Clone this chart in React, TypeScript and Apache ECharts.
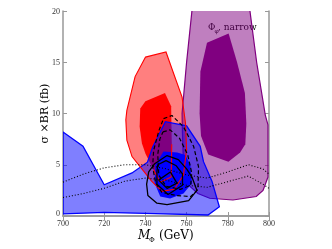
import React, { useEffect, useRef } from 'react';
import * as echarts from 'echarts';

const xTicks = [700, 720, 740, 760, 780, 800];
const yTicks = [0, 5, 10, 15, 20];

const redOuter = [[740,15.5],[750,16.0],[753.7,13.9],[757.8,11.6],[759.5,9],[760,6.5],[758.5,4],[754,2.6],[748,2.4],[743,3.4],[737.5,4.8],[733.5,5.8],[731,7.4],[730.5,9.4],[731,10.3],[735,13.6]];
const redInner = [[740,11.2],[749.5,12.0],[752.5,10.7],[752.8,7],[752.5,3.8],[747.2,3.3],[744,4.5],[740,6.1],[738.3,7.1],[737.2,8.7],[737.5,10.5]];
const purpleLight = [[763.1,21],[790.1,21],[794,15],[798.2,9.85],[799.5,8.9],[799.5,3.8],[797.1,2.5],[793.8,1.9],[782.5,1.56],[771.2,1.73],[765.5,2.2],[761,3],[758.5,5],[758,8],[757.8,10],[760,15]];
const purpleDark = [[769.9,16.9],[780.4,17.8],[784.5,15],[788.3,12],[789,9],[788.5,7],[786,6.2],[780.3,5.3],[770.5,6],[767,7.8],[766.3,10],[766.7,14.1]];
const blueLight = [[700,0.2],[700,8.2],[709.7,6.8],[720,3.05],[733.5,4.2],[741,5.25],[743.5,6.7],[749.7,9.2],[760,8.8],[766.6,6.8],[768.2,5.3],[772.3,3.4],[775.9,0.9],[770.4,0.1],[740,0.25],[720,0.35]];
const blueDark = [[748.8,6.3],[755.5,6.2],[759.4,5.95],[761.8,5],[762.6,3.2],[758.5,2.2],[752,1.7],[747.2,1.9],[744.5,3.2],[744.8,5]];
const blackOuter = [[750.5,5.9],[756,5.5],[760,4.6],[762.6,3.8],[765,2.5],[761,1.5],[750.5,1.1],[745.6,1.25],[741.2,2.0],[740.6,3.1],[741.6,4.3],[744.5,5.1],[750.5,5.9]];
const blackMid = [[746,5.0],[750,5.4],[755,4.9],[758,4.1],[758,3.0],[751,2.1],[745.6,3.1],[745.6,4.3],[746,5.0]];
const blackInner = [[746.4,3.5],[752.1,4.3],[755.3,3.2],[750.5,2.7],[746.4,3.5]];
const dashOuter = [[748.8,9.5],[752.9,9.8],[758.5,8.7],[763.4,6.8],[765.8,4.8],[765.5,2.6],[762,1.9],[755,2.0],[748,2.3],[745,3.2],[743.5,4.8],[744,6.4],[746.5,8.3],[748.8,9.5]];
const dashInner = [[748.5,8.2],[752,8.4],[756.5,7.6],[760.5,6],[762.5,4.2],[762,3],[757,2.6],[750,2.9],[746.5,4],[746,6],[747,7.5],[748.5,8.2]];
const dotUpper = [[700,3.3],[710,4.1],[720,4.7],[730,5.0],[740,5.0],[750,4.6],[760,4.0],[770,3.7],[780,4.3],[790,5.0],[797,4.6],[800,4.1]];
const dotLower = [[700,1.8],[710,2.2],[720,2.7],[730,3.4],[740,3.7],[750,3.5],[760,3.0],[770,2.8],[780,3.35],[790,3.9],[797,3.1],[800,2.7]];

function poly(name: string, pts: number[][], style: any) {
  return {
    type: 'custom',
    name,
    clip: true,
    data: pts,
    renderItem: (params: any, api: any) => {
      if (params.dataIndex !== 0) return null;
      return {
        type: 'polygon',
        shape: { points: pts.map((p) => api.coord(p)) },
        style,
      };
    },
  };
}

function line(name: string, pts: number[][], color: string, type: any, width = 1.2) {
  return {
    type: 'line',
    name,
    data: pts,
    showSymbol: false,
    symbol: 'none',
    silent: true,
    lineStyle: { color, width, type },
  };
}

export default function App() {
  const ref = useRef<HTMLDivElement>(null);
  useEffect(() => {
    const chart = echarts.init(ref.current!, null, { renderer: 'svg' });
    const axisCol = '#999';
    const lab = { fontFamily: 'Liberation Serif', fontSize: 8, color: '#333' };
    const xBase = {
      type: 'value', min: xTicks[0], max: xTicks[xTicks.length - 1], interval: 20,
      axisLine: { show: true, lineStyle: { color: axisCol, width: 1.5 } },
      axisTick: { show: true, inside: true, length: 4, lineStyle: { color: axisCol } },
      splitLine: { show: false },
    };
    const yBase = {
      type: 'value', min: yTicks[0], max: yTicks[yTicks.length - 1], interval: 5,
      axisLine: { show: true, lineStyle: { color: axisCol, width: 1.5 } },
      axisTick: { show: true, inside: true, length: 4, lineStyle: { color: axisCol } },
      splitLine: { show: false },
    };
    const option: any = {
      animation: false,
      grid: { left: 63, right: 63, top: 11, bottom: 33, containLabel: false },
      xAxis: [
        { ...xBase, position: 'bottom', axisLabel: { ...lab, margin: 3 } },
        { ...xBase, position: 'top', axisLabel: { show: false } },
      ],
      yAxis: [
        {
          ...yBase, position: 'left',
          axisLabel: {
            ...lab, margin: 3,
            formatter: (v: number) => (v === 0 ? '{z|0}' : String(v)),
            rich: { z: { ...lab, padding: [0, 0, 5, 0] } },
          },
        },
        { ...yBase, position: 'right', axisLabel: { show: false } },
      ],
      series: [
        poly('redOuter', redOuter, { fill: 'rgba(255,0,0,0.5)', stroke: 'none' }),
        poly('redInner', redInner, { fill: '#ff0000', stroke: 'none' }),
        poly('purpleLight', purpleLight, { fill: 'rgba(128,0,128,0.5)', stroke: '#800080', lineWidth: 1.2 }),
        poly('purpleDark', purpleDark, { fill: '#800080', stroke: 'none' }),
        poly('blueLight', blueLight, { fill: 'rgba(0,0,255,0.5)', stroke: '#0000ff', lineWidth: 1.3 }),
        poly('blueDark', blueDark, { fill: '#0000ff', stroke: 'none' }),
        poly('redOuterLine', redOuter, { fill: 'none', stroke: '#ff0000', lineWidth: 1.1 }),
        line('redInnerEdge', redInner.slice(3, 7), '#ff0000', 'solid', 1.1),
        line('dashOuter', dashOuter, '#000', [4, 2.5], 1.2),
        line('dashInner', dashInner, '#000', [4, 2.5], 1.2),
        line('blackOuter', blackOuter, '#000', 'solid', 1.3),
        line('blackMid', blackMid, '#000', 'solid', 1.3),
        line('blackInner', blackInner, '#000', 'solid', 1.3),
        line('dotUpper', dotUpper, '#000', [1, 2], 1.1),
        line('dotLower', dotLower, '#000', [1, 2], 1.1),
      ],
      graphic: [
        { type: 'text', left: 208, top: 22, style: { text: 'Φ', font: '9px "DejaVu Serif"', fill: '#000' } },
        { type: 'text', left: 214.5, top: 27, style: { text: 'φ', font: '6px "DejaVu Serif"', fill: '#000' } },
        { type: 'text', left: 218, top: 22, style: { text: ', narrow', font: '9px "DejaVu Serif"', fill: '#000' } },
        { type: 'text', left: 138, top: 229, style: { text: 'M', font: 'italic 12px "DejaVu Serif"', fill: '#000' } },
        { type: 'text', left: 149, top: 236, style: { text: 'Φ', font: '7px "DejaVu Serif"', fill: '#000' } },
        { type: 'text', left: 159, top: 229, style: { text: '(GeV)', font: '12px "DejaVu Serif"', fill: '#000' } },
        {
          type: 'text', x: 44, y: 113.5, rotation: Math.PI / 2,
          style: { text: 'σ ×BR (fb)', font: '11px "DejaVu Serif"', fill: '#000', align: 'center', verticalAlign: 'middle' },
        },
      ],
    };
    chart.setOption(option);
    return () => chart.dispose();
  }, []);
  return <div ref={ref} style={{ position: 'fixed', left: 0, top: 0, width: 332, height: 249 }} />;
}
